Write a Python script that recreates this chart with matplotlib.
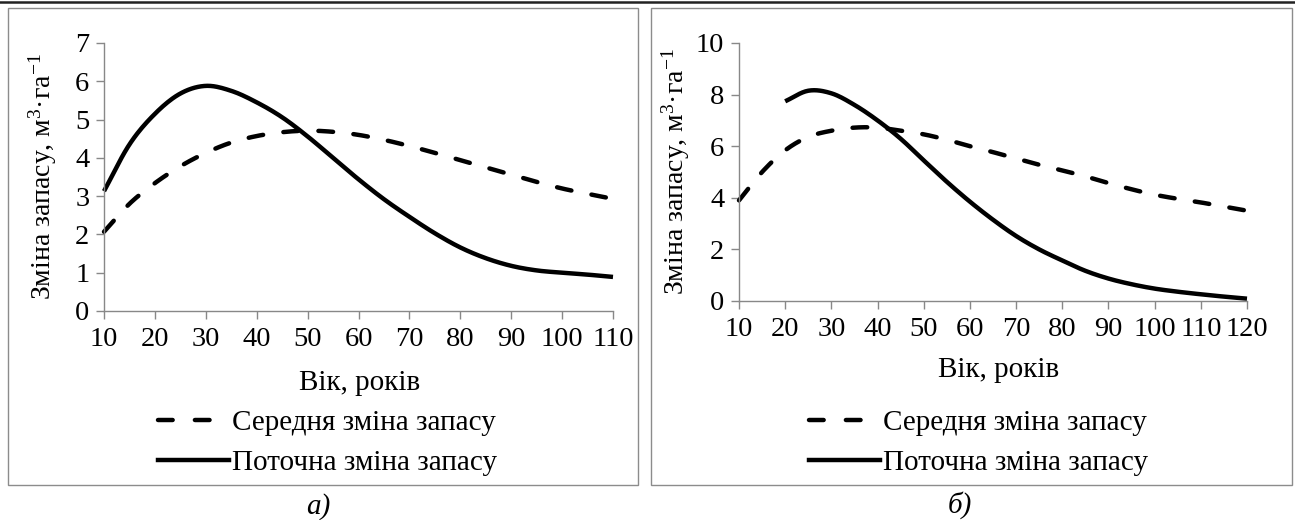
import numpy as np
import matplotlib
matplotlib.use("Agg")
import matplotlib.pyplot as plt
from matplotlib.lines import Line2D
from matplotlib.patches import Rectangle

plt.rcParams['font.family'] = ['Liberation Serif', 'DejaVu Serif']
plt.rcParams['mathtext.fontset'] = 'custom'
plt.rcParams['mathtext.rm'] = 'Liberation Serif'
plt.rcParams['mathtext.default'] = 'rm'

# ---------------- data ----------------
age_a = [10, 15, 20, 25, 30, 35, 40, 45, 50, 55, 60, 65, 70, 75, 80, 85, 90, 95, 100, 105, 110]
mean_a = [2.07, 2.80, 3.34, 3.78, 4.13, 4.40, 4.57, 4.67, 4.71, 4.68, 4.60, 4.47, 4.31, 4.13,
          3.94, 3.75, 3.56, 3.37, 3.20, 3.06, 2.93]
curr_a = [3.13, 4.35, 5.15, 5.68, 5.88, 5.75, 5.45, 5.06, 4.56, 4.00, 3.44, 2.92, 2.46, 2.03,
          1.66, 1.38, 1.18, 1.06, 1.00, 0.95, 0.89]

age_b_mean = [10, 15, 20, 25, 30, 35, 40, 45, 50, 55, 60, 65, 70, 75, 80, 85, 90, 95, 100,
              105, 110, 115, 120]
mean_b = [3.90, 5.00, 5.84, 6.36, 6.60, 6.72, 6.72, 6.60, 6.46, 6.25, 6.00, 5.77, 5.52, 5.28,
          5.06, 4.83, 4.57, 4.33, 4.12, 3.96, 3.82, 3.66, 3.50]
age_b_curr = [20, 25, 30, 35, 40, 45, 50, 55, 60, 65, 70, 75, 80, 85, 90, 95, 100, 105, 110,
              115, 120]
curr_b = [7.74, 8.15, 8.05, 7.60, 7.00, 6.29, 5.45, 4.62, 3.85, 3.15, 2.52, 2.00, 1.57, 1.17,
          0.87, 0.65, 0.48, 0.36, 0.26, 0.17, 0.09]

xticks_a = list(range(10, 111, 10))
yticks_a = list(range(0, 8))
xticks_b = list(range(10, 121, 10))
yticks_b = list(range(0, 11, 2))

label_mean = 'Середня зміна запасу'
label_curr = 'Поточна зміна запасу'
xlabel = 'Вік, років'
ylabel = 'Зміна запасу, м$^{3}$·га$^{-1}$'
captions = ['а)', 'б)']


def smooth(x, y, n=16):
    """Catmull-Rom rendering of a smoothed line through the data points (like Excel)."""
    P = np.column_stack([np.asarray(x, float), np.asarray(y, float)])
    P = np.vstack([2 * P[0] - P[1], P, 2 * P[-1] - P[-2]])
    out = []
    t = np.linspace(0, 1, n, endpoint=False)[:, None]
    for i in range(1, len(P) - 2):
        p0, p1, p2, p3 = P[i - 1], P[i], P[i + 1], P[i + 2]
        pts = 0.5 * ((2 * p1) + (-p0 + p2) * t + (2 * p0 - 5 * p1 + 4 * p2 - p3) * t ** 2
                     + (-p0 + 3 * p1 - 3 * p2 + p3) * t ** 3)
        out.append(pts)
    out.append(P[-2][None, :])
    arr = np.vstack(out)
    return arr[:, 0], arr[:, 1]


W, H = 1295, 520
fig = plt.figure(figsize=(W / 100, H / 100), dpi=100)

LW = 3.2
DASH = (3.3, 4.6)
LEG_DASH = (3.3, 5.0)
GRAY = '#888888'
TICK_FS = 20.5
LAB_FS = 21
YLAB_FS = 20


def px_rect(x0, y0, x1, y1):
    return [x0 / W, 1 - y1 / H, (x1 - x0) / W, (y1 - y0) / H]


def setup(ax, xt, yt):
    for s in ['top', 'right']:
        ax.spines[s].set_visible(False)
    for s in ['left', 'bottom']:
        ax.spines[s].set_color(GRAY)
        ax.spines[s].set_linewidth(1.0)
    ax.set_xticks(xt)
    ax.set_yticks(yt)
    ax.set_xlim(xt[0], xt[-1])
    ax.set_ylim(yt[0], yt[-1])
    ax.tick_params(axis='both', direction='out', length=5.5, width=1.0, color=GRAY,
                   labelsize=TICK_FS, pad=5)
    ax.tick_params(axis='x', pad=6)


panels = [
    dict(rect=px_rect(104, 43, 613, 311), xt=xticks_a, yt=yticks_a,
         mean=(age_a, mean_a), curr=(age_a, curr_a),
         ylab_x=-0.12, xlab=(0.503, -0.269), leg=(158, 443), cap=(318, 507),
         frame=(8, 8, 638, 485)),
    dict(rect=px_rect(739, 43, 1247, 301), xt=xticks_b, yt=yticks_b,
         mean=(age_b_mean, mean_b), curr=(age_b_curr, curr_b),
         ylab_x=-0.125, xlab=(0.51, -0.269), leg=(809, 443), cap=(960, 505),
         frame=(651, 8, 1292, 485)),
]

for i, p in enumerate(panels):
    ax = fig.add_axes(p['rect'])
    setup(ax, p['xt'], p['yt'])
    xm, ym = smooth(*p['mean'])
    xc, yc = smooth(*p['curr'])
    ax.plot(xm, ym, color='black', lw=LW, dashes=DASH, dash_capstyle='round', clip_on=False,
            label=label_mean)
    ax.plot(xc, yc, color='black', lw=LW, solid_capstyle='butt', clip_on=False,
            label=label_curr)
    ax.set_ylabel(ylabel, fontsize=YLAB_FS)
    ax.yaxis.set_label_coords(p['ylab_x'], 0.5)
    ax.yaxis.label.set_va('center')
    ax.set_xlabel(xlabel, fontsize=LAB_FS)
    ax.xaxis.set_label_coords(*p['xlab'])
    ax.xaxis.label.set_va('center')

    h_mean = Line2D([], [], color='black', lw=LW, dashes=LEG_DASH, dash_capstyle='round')
    h_curr = Line2D([], [], color='black', lw=LW)
    lx, ly = p['leg']
    fig.legend([h_mean, h_curr], [label_mean, label_curr], loc='center left',
               bbox_to_anchor=(lx / W, 1 - ly / H), frameon=False, fontsize=LAB_FS,
               handlelength=2.43, handletextpad=0.12, labelspacing=0.45,
               borderpad=0, borderaxespad=0)

    cx, cy = p['cap']
    fig.text(cx / W, 1 - cy / H, captions[i], fontsize=LAB_FS, style='italic',
             ha='center', va='center')

    x0, y0, x1, y1 = p['frame']
    fig.patches.append(Rectangle((x0 / W, 1 - y1 / H), (x1 - x0) / W, (y1 - y0) / H,
                                 transform=fig.transFigure, fill=False,
                                 edgecolor='#8c8c8c', lw=1.0))

fig.lines.append(Line2D([0, 1], [1 - 1.5 / H, 1 - 1.5 / H], transform=fig.transFigure,
                        color='#222222', lw=1.8))

fig.savefig('out.png', dpi=100)
